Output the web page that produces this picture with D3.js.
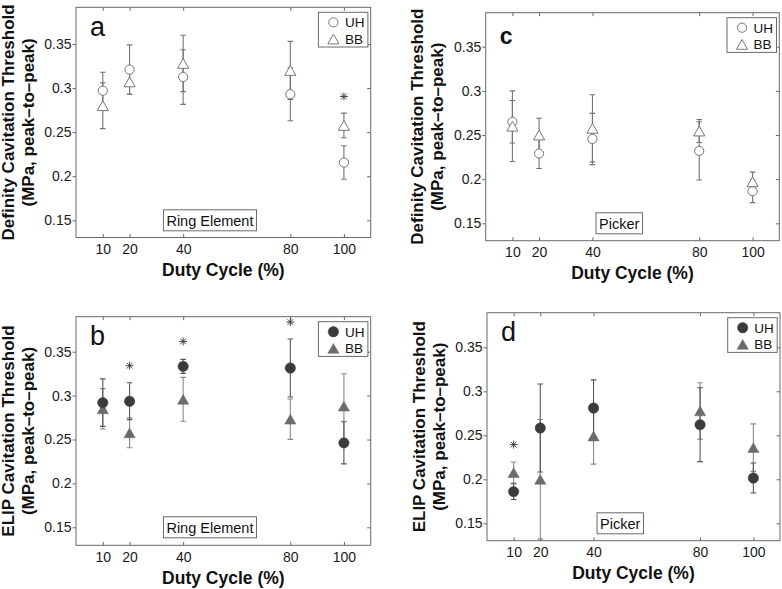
<!DOCTYPE html>
<html><head><meta charset="utf-8">
<script src="https://cdn.jsdelivr.net/npm/d3@7"></script>
<style>
body{margin:0;background:#fff}
svg{display:block}
text{font-family:"Liberation Sans",Arial,Helvetica,sans-serif}
</style>
</head><body>
<svg id="chart" width="782" height="589"></svg>
<script>
// ---------- data ----------
const dutyCycles = [10, 20, 40, 80, 100];
const xTicks = [10, 20, 40, 80, 100];
const yTicks = [0.15, 0.2, 0.25, 0.3, 0.35];
const yTickLabels = ["0.15", "0.2", "0.25", "0.3", "0.35"];
const seriesNames = ["UH", "BB"];

// panel a: Definity, Ring Element
const aUH    = [0.297, 0.321, 0.3125, 0.293, 0.2155];
const aUHerr = [0.021, 0.028, 0.031, 0.030, 0.019];
const aBB    = [0.280, 0.307, 0.328, 0.320, 0.2576];
const aBBerr = [0.026, 0.014, 0.032, 0.033, 0.014];
const aStarX = [100];
const aStarY = [0.2905];

// panel b: ELIP, Ring Element
const bUH    = [0.292, 0.2936, 0.3333, 0.3314, 0.2462];
const bUHerr = [0.027, 0.021, 0.008, 0.033, 0.024];
const bBB    = [0.285, 0.2576, 0.2958, 0.2731, 0.2879];
const bBBerr = [0.023, 0.017, 0.025, 0.023, 0.037];
const bStarX = [20, 40, 80];
const bStarY = [0.334, 0.3617, 0.3837];

// panel c: Definity, Picker
const cUH    = [0.265, 0.229, 0.2455, 0.232, 0.1864];
const cUHerr = [0.024, 0.017, 0.029, 0.033, 0.013];
const cBB    = [0.260, 0.250, 0.2576, 0.2545, 0.197];
const cBBerr = [0.040, 0.019, 0.038, 0.013, 0.011];
const cStarX = [];
const cStarY = [];

// panel d: ELIP, Picker
const dUH    = [0.186, 0.2583, 0.281, 0.2621, 0.2015];
const dUHerr = [0.009, 0.050, 0.032, 0.042, 0.017];
const dBB    = [0.2076, 0.200, 0.2492, 0.2777, 0.236];
const dBBerr = [0.012, 0.068, 0.032, 0.032, 0.027];
const dStarX = [10];
const dStarY = [0.2394];

const yTitleDefinity = ["Definity Cavitation Threshold", "(MPa, peak\u2013to\u2013peak)"];
const yTitleELIP = ["ELIP Cavitation Threshold", "(MPa, peak\u2013to\u2013peak)"];
const xTitle = "Duty Cycle (%)";

// ---------- layout ----------
const panels = [
  {id:"a", label:"a", labelBold:false, filled:false, note:"Ring Element", yTitle:yTitleDefinity,
   uh:aUH, uhe:aUHerr, bb:aBB, bbe:aBBerr, sx:aStarX, sy:aStarY,
   left:76, right:370.7, top:7.3, bottom:237.5, y15:220.3, y35:44},
  {id:"b", label:"b", labelBold:false, filled:true, note:"Ring Element", yTitle:yTitleELIP,
   uh:bUH, uhe:bUHerr, bb:bBB, bbe:bBBerr, sx:bStarX, sy:bStarY,
   left:76, right:370.7, top:316.7, bottom:545.3, y15:527.3, y35:351.7},
  {id:"c", label:"c", labelBold:true, filled:false, note:"Picker", yTitle:yTitleDefinity,
   uh:cUH, uhe:cUHerr, bb:cBB, bbe:cBBerr, sx:cStarX, sy:cStarY,
   left:485.7, right:779.3, top:12.7, bottom:240.7, y15:223.3, y35:46.7},
  {id:"d", label:"d", labelBold:false, filled:true, note:"Picker", yTitle:yTitleELIP,
   uh:dUH, uhe:dUHerr, bb:dBB, bbe:dBBerr, sx:dStarX, sy:dStarY,
   left:487, right:780, top:312.7, bottom:540.7, y15:523.3, y35:347.3}
];

const svg = d3.select("#chart");
const axisColor = "#6a6a6a";
const FONT = '"Liberation Sans",Arial,sans-serif';

// custom marker symbols
const triSym = {draw(ctx, size){ const w = 5.6, h = 4.9;
  ctx.moveTo(0, -h); ctx.lineTo(w, h); ctx.lineTo(-w, h); ctx.closePath(); }};
const starSym = {draw(ctx, size){ const r = 4, q = r*0.7071;
  ctx.moveTo(-r,0); ctx.lineTo(r,0); ctx.moveTo(0,-r); ctx.lineTo(0,r);
  ctx.moveTo(-q,-q); ctx.lineTo(q,q); ctx.moveTo(-q,q); ctx.lineTo(q,-q); }};

function styleFor(p, s){
  if (!p.filled) return {fill:"#fff", stroke:"#777", sw:1, bar:"#747474"};
  return s === "UH" ? {fill:"#3b3b3b", stroke:"#3b3b3b", sw:0.5, bar:"#555"}
                    : {fill:"#6b6b6b", stroke:"#6b6b6b", sw:0.5, bar:"#8a8a8a"};
}

function drawMarker(g, p, s, cx, cy){
  const st = styleFor(p, s);
  if (s === "UH") {
    g.append("circle").attr("cx", cx).attr("cy", cy)
      .attr("r", p.filled ? 5.2 : 4.6)
      .attr("fill", st.fill).attr("stroke", st.stroke).attr("stroke-width", st.sw);
  } else {
    g.append("path").attr("d", d3.symbol(triSym)())
      .attr("transform", `translate(${cx},${cy})`)
      .attr("fill", st.fill).attr("stroke", st.stroke).attr("stroke-width", st.sw)
      .attr("stroke-linejoin", "miter");
  }
}

panels.forEach(p => {
  const x = d3.scaleLinear().domain([0, 110]).range([p.left, p.right]);
  const y = d3.scaleLinear().domain([0.15, 0.35]).range([p.y15, p.y35]);
  const g = svg.append("g");
  const W = p.right - p.left, H = p.bottom - p.top;

  // clip
  g.append("clipPath").attr("id", "clip-" + p.id)
    .append("rect").attr("x", p.left).attr("y", p.top).attr("width", W).attr("height", H);

  // axes box
  g.append("rect").attr("x", p.left).attr("y", p.top).attr("width", W).attr("height", H)
    .attr("fill", "none").attr("stroke", axisColor).attr("stroke-width", 1);

  // bottom axis (ticks inward)
  const bottomAx = d3.axisBottom(x).tickValues(xTicks).tickSizeInner(-3.5).tickSizeOuter(0)
    .tickFormat(d3.format("d"));
  const gb = g.append("g").attr("transform", `translate(0,${p.bottom})`).call(bottomAx);
  gb.select(".domain").remove();
  gb.selectAll("line").attr("stroke", axisColor);
  gb.selectAll("text").attr("font-size", "14px").attr("fill", "#1a1a1a")
    .attr("font-family", FONT).attr("dy", null).attr("y", 16.5);

  // top axis ticks
  const topAx = d3.axisTop(x).tickValues(xTicks).tickSizeInner(-3.5).tickSizeOuter(0).tickFormat("");
  const gt = g.append("g").attr("transform", `translate(0,${p.top})`).call(topAx);
  gt.select(".domain").remove();
  gt.selectAll("line").attr("stroke", axisColor);

  // left axis (ticks outward)
  const leftAx = d3.axisLeft(y).tickValues(yTicks).tickSizeInner(3.5).tickSizeOuter(0)
    .tickPadding(1).tickFormat((d, i) => yTickLabels[i]);
  const gl = g.append("g").attr("transform", `translate(${p.left},0)`).call(leftAx);
  gl.select(".domain").remove();
  gl.selectAll("line").attr("stroke", axisColor);
  gl.selectAll("text").attr("font-size", "14px").attr("fill", "#1a1a1a")
    .attr("font-family", FONT);

  // right axis ticks (inward)
  const rightAx = d3.axisRight(y).tickValues(yTicks).tickSizeInner(-3.5).tickSizeOuter(0).tickFormat("");
  const gr = g.append("g").attr("transform", `translate(${p.right},0)`).call(rightAx);
  gr.select(".domain").remove();
  gr.selectAll("line").attr("stroke", axisColor);

  // titles
  g.append("text").attr("x", (p.left + p.right) / 2).attr("y", p.bottom + 38.7)
    .attr("text-anchor", "middle").attr("font-weight", "bold").attr("font-size", "17.5px")
    .attr("fill", "#111").text(xTitle);
  const cy = (p.top + p.bottom) / 2;
  const yt = g.append("text").attr("transform", `translate(${p.left - 62.5},${cy}) rotate(-90)`)
    .attr("text-anchor", "middle").attr("font-weight", "bold").attr("font-size", "17px").attr("fill", "#111");
  yt.append("tspan").attr("x", 0).attr("y", 0).text(p.yTitle[0]);
  yt.append("tspan").attr("x", 0).attr("y", 20.3).text(p.yTitle[1]);

  // panel letter
  g.append("text").attr("x", p.left + 14).attr("y", p.top + (p.labelBold ? 31 : 28.5))
    .attr("font-size", p.labelBold ? "23px" : "27px")
    .attr("font-weight", p.labelBold ? "bold" : "normal").attr("fill", "#111").text(p.label);

  // note box
  const nx = x(50), ny = y(0.15);
  const noteG = g.append("g");
  const nrect = noteG.append("rect");
  const nt = noteG.append("text").attr("x", nx).attr("y", ny).attr("dy", "0.36em")
    .attr("text-anchor", "middle").attr("font-size", "14.5px").attr("fill", "#111").text(p.note);
  const bb = nt.node().getBBox();
  nrect.attr("x", bb.x - 3).attr("y", ny - 10.5)
    .attr("width", bb.width + 6).attr("height", 21)
    .attr("fill", "#fff").attr("stroke", axisColor).attr("stroke-width", 1);

  // data (error bars + markers), clipped
  const dg = g.append("g").attr("clip-path", `url(#clip-${p.id})`);
  const series = [
    {name:"BB", v:p.bb, e:p.bbe},
    {name:"UH", v:p.uh, e:p.uhe}
  ];
  series.forEach(s => {
    const st = styleFor(p, s.name);
    dutyCycles.forEach((dc, i) => {
      const X = x(dc), y1 = y(s.v[i] + s.e[i]), y2 = y(s.v[i] - s.e[i]);
      dg.append("line").attr("x1", X).attr("x2", X).attr("y1", y1).attr("y2", y2)
        .attr("stroke", st.bar).attr("stroke-width", 1.1);
      [y1, y2].forEach(yy => dg.append("line").attr("x1", X - 2.8).attr("x2", X + 2.8)
        .attr("y1", yy).attr("y2", yy).attr("stroke", st.bar).attr("stroke-width", 1.1));
    });
  });
  const order = p.filled ? ["BB", "UH"] : ["UH", "BB"];
  order.forEach(name => {
    const s = series.find(d => d.name === name);
    dutyCycles.forEach((dc, i) => drawMarker(dg, p, name, x(dc), y(s.v[i])));
  });

  // significance asterisks
  p.sx.forEach((sx, i) => {
    dg.append("path").attr("d", d3.symbol(starSym)())
      .attr("transform", `translate(${x(sx)},${y(p.sy[i])})`)
      .attr("fill", "none").attr("stroke", "#333").attr("stroke-width", 0.9);
  });

  // legend
  const lw = 49.5, lh = 34.7;
  const lx = p.right - 2.8 - lw, ly = p.top + 5;
  const lg = g.append("g");
  lg.append("rect").attr("x", lx).attr("y", ly).attr("width", lw).attr("height", lh)
    .attr("fill", "#fff").attr("stroke", axisColor).attr("stroke-width", 1);
  seriesNames.forEach((name, i) => {
    const ry = ly + 10 + i * 16.7;
    drawMarker(lg, p, name, lx + 15, ry);
    lg.append("text").attr("x", lx + 26.5).attr("y", ry).attr("dy", "0.36em")
      .attr("font-size", "13.5px").attr("fill", "#111").text(name);
  });
});
</script>
</body></html>
